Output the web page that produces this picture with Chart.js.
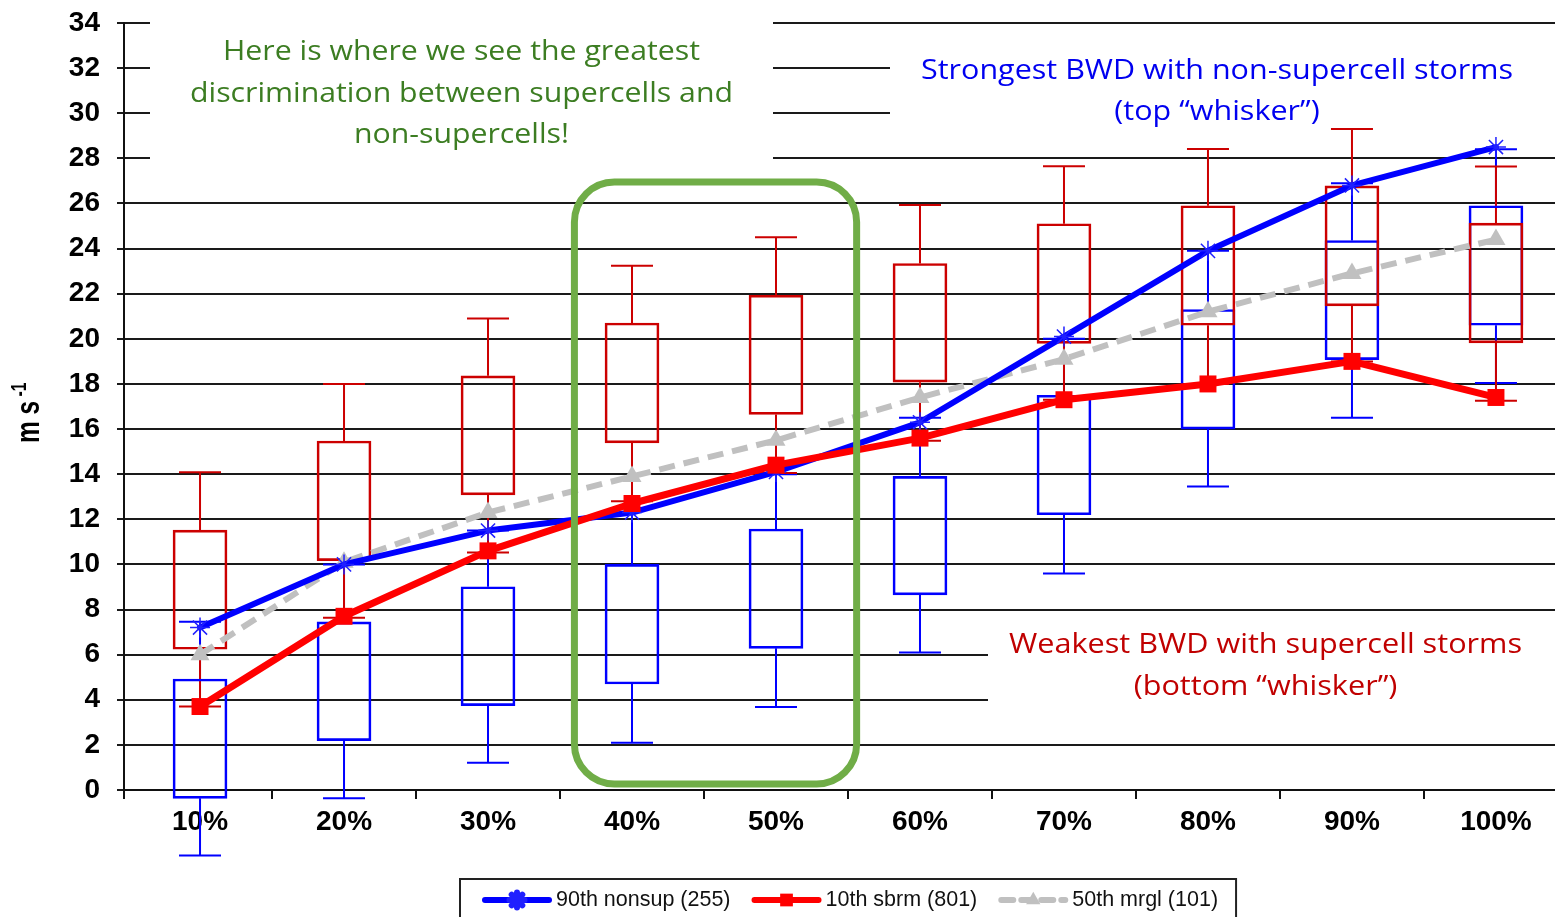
<!DOCTYPE html>
<html>
<head>
<meta charset="utf-8">
<title>BWD percentiles</title>
<script src="https://cdn.jsdelivr.net/npm/chart.js@4.4.0/dist/chart.umd.min.js"></script>
<style>
  html, body { margin: 0; padding: 0; background: #fff; overflow: hidden; }
</style>
</head>
<body>
<canvas id="bwdChart" width="1555" height="917"></canvas>
<script>
// ---------------- Data ----------------

const categories = ['10%', '20%', '30%', '40%', '50%', '60%', '70%', '80%', '90%', '100%'];
const yTicks = [0, 2, 4, 6, 8, 10, 12, 14, 16, 18, 20, 22, 24, 26, 28, 30, 32, 34];

// percentile lines
const nonsup90 = [7.2, 10.0, 11.5, 12.3, 14.1, 16.3, 20.1, 23.9, 26.8, 28.5];
const sbrm10 = [3.7, 7.7, 10.6, 12.7, 14.4, 15.6, 17.3, 18.0, 19.0, 17.4];
const mrgl50 = [6.0, 10.1, 12.3, 13.9, 15.5, 17.4, 19.1, 21.2, 22.9, 24.4];

// supercell boxes (red)
const supLow = [3.7, 7.64, 10.53, 12.8, 14.05, 15.48, 17.3, 18.0, 19.0, 17.25];
const supQ1 = [6.24, 10.17, 13.08, 15.39, 16.65, 18.08, 19.8, 20.6, 21.46, 19.82];
const supQ3 = [11.52, 15.47, 18.36, 20.7, 21.93, 23.34, 25.1, 25.9, 26.78, 25.13];
const supHigh = [14.08, 18.0, 20.9, 23.24, 24.5, 25.93, 27.65, 28.42, 29.3, 27.64];

// non-supercell boxes (blue)
const nonLow = [-2.9, -0.37, 1.21, 2.1, 3.68, 6.1, 9.6, 13.45, 16.5, 18.04];
const nonQ1 = [-0.37, 2.19, 3.74, 4.7, 6.28, 8.65, 12.2, 16.0, 19.08, 20.6];
const nonQ3 = [4.92, 7.45, 9.01, 10.0, 11.57, 13.9, 17.5, 21.3, 24.36, 25.9];
const nonHigh = [7.46, 10.0, 11.5, 12.5, 14.0, 16.5, 20.0, 23.9, 26.9, 28.4];

// callout text
const greenNote = ['Here is where we see the greatest', 'discrimination between supercells and', 'non-supercells!'];
const blueNote = ['Strongest BWD with non-supercell storms', '(top \u201cwhisker\u201d)'];
const redNote = ['Weakest BWD with supercell storms', '(bottom \u201cwhisker\u201d)'];

// ---------------- Styles ----------------

const RED_BOX = '#CC0000';
const BLUE_BOX = '#0000FF';
const X_MIN = 0.472;
const X_MAX = 10.41;

const toPoints = arr => arr.map((v, i) => ({ x: i + 1, y: v }));
const toBoxes = (lo, hi) => lo.map((v, i) => ({ x: i + 1, y: [v, hi[i]] }));

// draw a block of centred lines squeezed/stretched to a given width
function drawBlock(ctx, lines, font, width, cx, baseline, gap, color) {
  ctx.save();
  ctx.font = font;
  ctx.fillStyle = color;
  ctx.textAlign = 'center';
  ctx.textBaseline = 'alphabetic';
  const widest = Math.max(...lines.map(t => ctx.measureText(t).width));
  const sx = width / widest;
  lines.forEach((t, i) => {
    ctx.save();
    ctx.translate(cx, baseline + i * gap);
    ctx.scale(sx, 1);
    ctx.fillText(t, 0, 0);
    ctx.restore();
  });
  ctx.restore();
}

// ---------------- Plugins ----------------

// white panels behind the callouts (hide gridlines) + whiskers
const underlay = {
  id: 'underlay',
  beforeDatasetsDraw(chart) {
    const ctx = chart.ctx;
    const x = chart.scales.x, y = chart.scales.y;
    ctx.save();
    ctx.fillStyle = '#fff';
    ctx.fillRect(150, 4, 623, 168);
    ctx.fillRect(890, 40, 665, 92);
    ctx.fillRect(988, 624, 567, 92);

    const whiskers = (lo, q1, q3, hi, color) => {
      ctx.strokeStyle = color;
      ctx.lineWidth = 2;
      lo.forEach((v, i) => {
        const cx = x.getPixelForValue(i + 1);
        const pLo = y.getPixelForValue(v), pQ1 = y.getPixelForValue(q1[i]);
        const pQ3 = y.getPixelForValue(q3[i]), pHi = y.getPixelForValue(hi[i]);
        ctx.beginPath();
        ctx.moveTo(cx, pQ3); ctx.lineTo(cx, pHi);
        ctx.moveTo(cx - 21, pHi); ctx.lineTo(cx + 21, pHi);
        ctx.moveTo(cx, pQ1); ctx.lineTo(cx, pLo);
        ctx.moveTo(cx - 21, pLo); ctx.lineTo(cx + 21, pLo);
        ctx.stroke();
      });
    };
    whiskers(nonLow, nonQ1, nonQ3, nonHigh, BLUE_BOX);
    whiskers(supLow, supQ1, supQ3, supHigh, RED_BOX);
    ctx.restore();
  }
};

// green frame, callouts, y title and legend
const overlay = {
  id: 'overlay',
  afterDatasetsDraw(chart) {
    const ctx = chart.ctx;
    const x = chart.scales.x, y = chart.scales.y;
    ctx.save();

    // frame around 40% and 50%
    const l = x.getPixelForValue(3.6), r = x.getPixelForValue(5.56);
    const t = y.getPixelForValue(26.95), b = y.getPixelForValue(0.27);
    ctx.strokeStyle = '#70AD47';
    ctx.lineWidth = 7;
    ctx.beginPath();
    ctx.roundRect(l, t, r - l, b - t, 40);
    ctx.stroke();

    const noteFont = '28px "Open Sans"';
    drawBlock(ctx, greenNote, noteFont, 543, 461.5, 60, 41.5, '#3C7D22');
    drawBlock(ctx, blueNote, noteFont, 592, 1217, 79, 41, '#0000F0');
    drawBlock(ctx, redNote, noteFont, 513, 1265.5, 653, 42, '#C00000');
    ctx.restore();
  },
  afterDraw(chart) {
    const ctx = chart.ctx;
    ctx.save();

    // y axis title: m s^-1
    ctx.translate(39, 443);
    ctx.rotate(-Math.PI / 2);
    ctx.fillStyle = '#000';
    ctx.textBaseline = 'alphabetic';
    ctx.textAlign = 'left';
    ctx.scale(0.72, 1);
    ctx.font = 'bold 34px "Liberation Sans"';
    ctx.fillText('m s', 0, 0);
    const w = ctx.measureText('m s').width;
    ctx.font = 'bold 22px "Liberation Sans"';
    ctx.fillText('-1', w + 6, -13);
    ctx.restore();

    // legend
    ctx.save();
    const ly = 900;
    let lx = 485;
    ctx.font = '21.5px "Liberation Sans"';
    ctx.textBaseline = 'middle';
    ctx.textAlign = 'left';
    const items = [chart.data.datasets[2], chart.data.datasets[3], chart.data.datasets[4]];
    items.forEach((ds, i) => {
      ctx.strokeStyle = ds.borderColor;
      ctx.fillStyle = ds.pointBackgroundColor;
      ctx.lineWidth = 6;
      ctx.lineCap = 'round';
      ctx.setLineDash(ds.borderDash ? [12, 8] : []);
      ctx.beginPath();
      ctx.moveTo(lx, ly); ctx.lineTo(lx + 64, ly);
      ctx.stroke();
      ctx.setLineDash([]);
      ctx.strokeStyle = ds.pointBorderColor;
      Chart.helpers.drawPoint(ctx, {
        pointStyle: ds.pointStyle, radius: ds.pointRadius * 0.75,
        rotation: 0, borderWidth: ds.pointBorderWidth
      }, lx + 32, ly);
      ctx.fillStyle = '#111';
      ctx.fillText(ds.label, lx + 71, ly);
      lx += 71 + ctx.measureText(ds.label).width + (i < 2 ? 24 : 0);
    });
    ctx.strokeStyle = '#222';
    ctx.lineWidth = 2;
    ctx.strokeRect(460, 879, lx + 18 - 460, 60);
    ctx.restore();
  }
};

// ---------------- Chart ----------------

const ctx = document.getElementById('bwdChart').getContext('2d');
new Chart(ctx, {
  data: {
    datasets: [
      {
        type: 'bar', label: 'supercell', data: toBoxes(supQ1, supQ3),
        backgroundColor: 'rgba(0,0,0,0)', borderColor: RED_BOX, borderWidth: 2,
        borderSkipped: false, barThickness: 54, grouped: false, clip: false, order: 5
      },
      {
        type: 'bar', label: 'non-supercell', data: toBoxes(nonQ1, nonQ3),
        backgroundColor: 'rgba(0,0,0,0)', borderColor: BLUE_BOX, borderWidth: 2,
        borderSkipped: false, barThickness: 54, grouped: false, clip: false, order: 5
      },
      {
        type: 'line', label: '90th nonsup (255)', data: toPoints(nonsup90),
        borderColor: '#0000FF', borderWidth: 6, borderCapStyle: 'round', borderJoinStyle: 'round',
        pointStyle: 'star', pointRadius: 10, pointBorderWidth: 1.5,
        pointBorderColor: '#2020FF', pointBackgroundColor: '#2020FF', order: 2
      },
      {
        type: 'line', label: '10th sbrm (801)', data: toPoints(sbrm10),
        borderColor: '#FF0000', borderWidth: 7, borderCapStyle: 'round', borderJoinStyle: 'round',
        pointStyle: 'rect', pointRadius: 12, pointBorderWidth: 0,
        pointBorderColor: '#FF0000', pointBackgroundColor: '#FF0000', order: 1
      },
      {
        type: 'line', label: '50th mrgl (101)', data: toPoints(mrgl50),
        borderColor: '#C0C0C0', borderWidth: 6, borderDash: [16, 9],
        pointStyle: 'triangle', pointRadius: 11, pointBorderWidth: 0,
        pointBorderColor: '#C0C0C0', pointBackgroundColor: '#C0C0C0', order: 3
      }
    ]
  },
  options: {
    responsive: false,
    animation: false,
    devicePixelRatio: 1,
    layout: { autoPadding: false, padding: { top: 23, right: 0, bottom: 0, left: 0 } },
    plugins: { legend: { display: false }, tooltip: { enabled: false } },
    scales: {
      x: {
        type: 'linear', min: X_MIN, max: X_MAX, offset: false,
        afterBuildTicks: scale => {
          const t = [{ value: X_MIN }];
          categories.forEach((c, i) => {
            t.push({ value: i + 1 });
            if (i + 1.5 < X_MAX) t.push({ value: i + 1.5 });
          });
          scale.ticks = t;
        },
        afterFit: scale => {
          scale.height = 127;
          scale.paddingLeft = 0;
          scale.paddingRight = 0;
        },
        ticks: {
          autoSkip: false, maxRotation: 0, minRotation: 0, padding: 6,
          color: '#000',
          font: { family: 'Liberation Sans', size: 28, weight: 'bold' },
          callback: v => Number.isInteger(v) ? categories[v - 1] : ''
        },
        grid: {
          offset: false, drawOnChartArea: false, tickLength: 9, lineWidth: 2,
          color: c => (c.tick && Number.isInteger(c.tick.value)) ? 'rgba(0,0,0,0)' : '#111'
        },
        border: { display: true, color: '#111', width: 2 }
      },
      y: {
        min: 0, max: 34,
        afterBuildTicks: scale => { scale.ticks = yTicks.map(v => ({ value: v })); },
        afterFit: scale => {
          scale.width = 124;
          scale.paddingTop = 0;
          scale.paddingBottom = 0;
        },
        ticks: {
          padding: 17, color: '#000',
          font: { family: 'Liberation Sans', size: 28, weight: 'bold' }
        },
        grid: { color: '#1a1a1a', lineWidth: 2, tickLength: 7 },
        border: { display: true, color: '#111', width: 2 }
      }
    }
  },
  plugins: [underlay, overlay]
});
</script>
</body>
</html>
